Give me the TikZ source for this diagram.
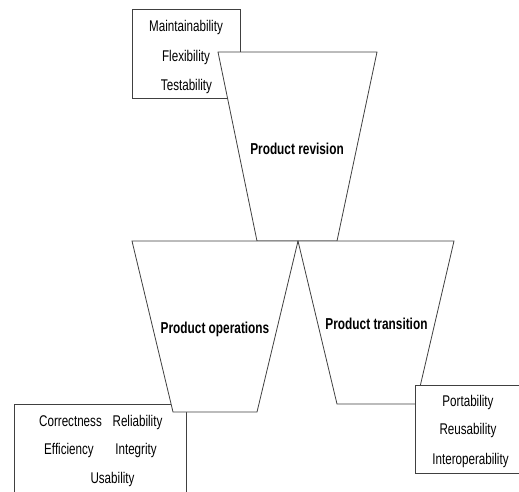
\documentclass[tikz,border=0pt]{standalone}
\usepackage{fontspec}
\newfontfamily\labfont[FakeStretch=0.75]{Liberation Sans}
\begin{document}
\begin{tikzpicture}[x=1pt,y=-1pt,
  edge/.style={draw=black!75,line width=0.8pt,fill=white},
  lab/.style={inner sep=0pt,anchor=base,font=\labfont\fontsize{15.5}{18}\selectfont},
  head/.style={lab,font=\labfont\bfseries\fontsize{15.8}{18}\selectfont}]
\useasboundingbox (0,0) rectangle (519,491);
\clip (0,0) rectangle (519,491);

% quality factor boxes behind the funnels
\draw[edge] (132,9) rectangle (240,98);
\draw[edge] (14,404) rectangle (186,500);

% product revision funnel
\coordinate (rTL) at (218,52);
\coordinate (rTR) at (377,52);
\coordinate (rBR) at (337,241);
\coordinate (rBL) at (257,241);
\draw[edge] (rTL) -- (rTR) -- (rBR) -- (rBL) -- cycle;

% product operations funnel
\coordinate (oTL) at (132,241);
\coordinate (oTR) at (298,241);
\coordinate (oBR) at (257,412);
\coordinate (oBL) at (173,412);
\draw[edge] (oTL) -- (oTR) -- (oBR) -- (oBL) -- cycle;

% product transition funnel
\coordinate (tTL) at (298,241);
\coordinate (tTR) at (454,241);
\coordinate (tBR) at (416,404);
\coordinate (tBL) at (337,404);
\draw[edge] (tTL) -- (tTR) -- (tBR) -- (tBL) -- cycle;

% transition factors box in front
\draw[edge] (415,385) rectangle (530,473);

% labels
\node[lab] (mnt) at (186,31) {Maintainability};
\node[lab] (flx) at (186,61.5) {Flexibility};
\node[lab] (tst) at (186.5,90) {Testability};

\node[head] (rev) at (297,154) {Product revision};
\node[head] (ops) at (215,333) {Product operations};
\node[head] (trn) at (376.5,329) {Product transition};

\node[lab] (cor) at (70.5,426) {Correctness};
\node[lab] (rel) at (137.5,426) {Reliability};
\node[lab] (eff) at (69,454) {Efficiency};
\node[lab] (itg) at (136,454) {Integrity};
\node[lab] (usa) at (112.5,483) {Usability};

\node[lab] (por) at (468,406) {Portability};
\node[lab] (reu) at (468,434) {Reusability};
\node[lab] (int) at (470.5,464) {Interoperability};
\end{tikzpicture}
\end{document}
